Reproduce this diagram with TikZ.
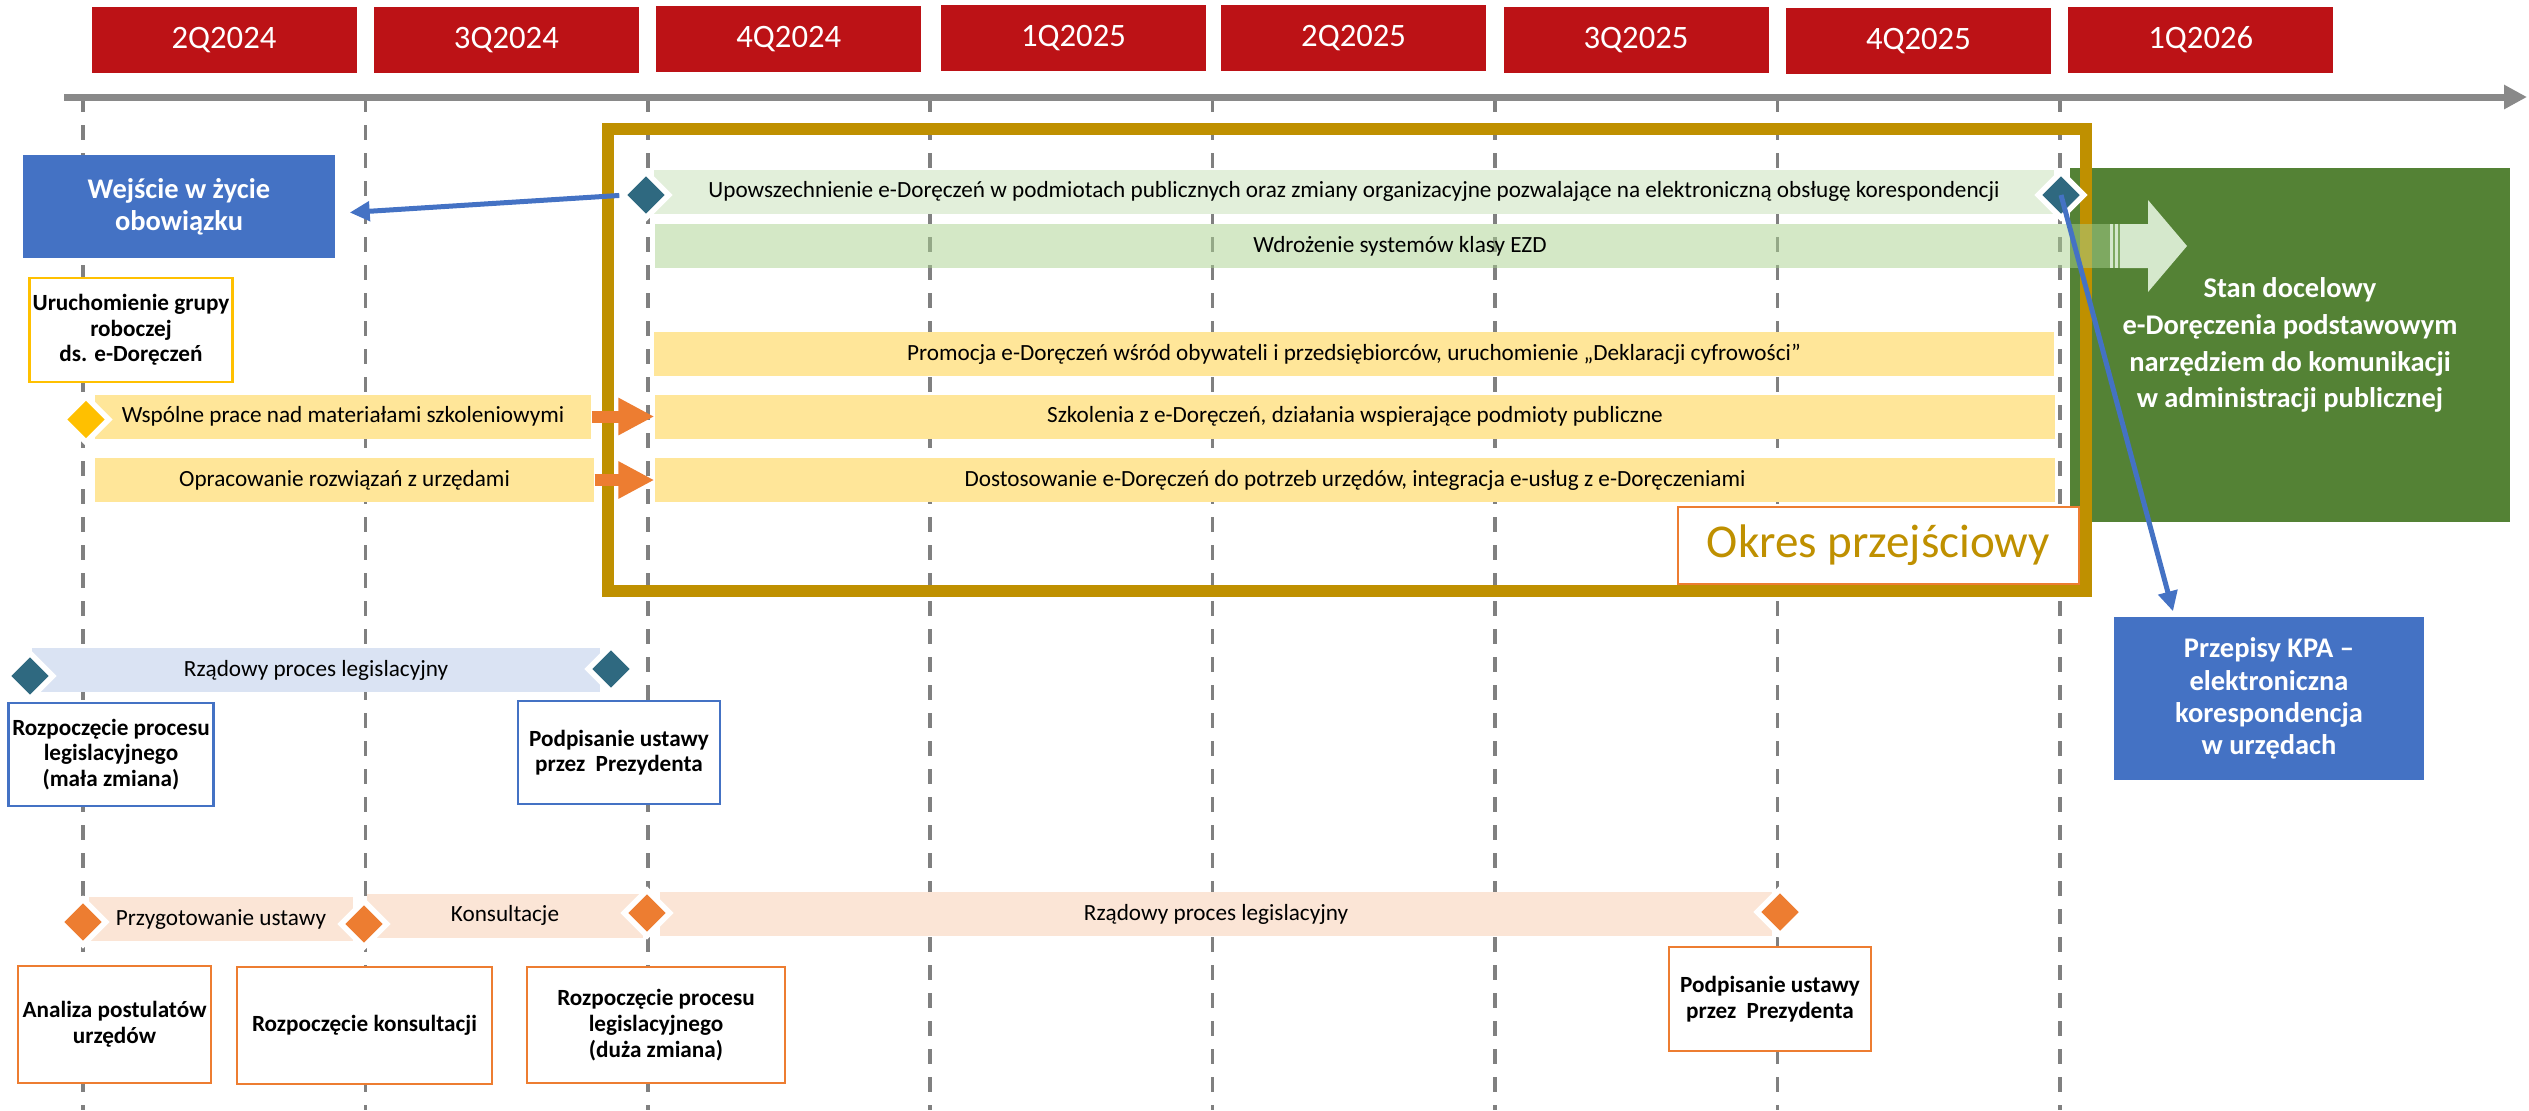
\documentclass[tikz,border=0pt]{standalone}
\usepackage{fontspec}
\setmainfont{Carlito}
\usetikzlibrary{shapes.geometric,arrows.meta}

\definecolor{hdrRed}{HTML}{BC1216}
\definecolor{gridGray}{HTML}{808080}
\definecolor{axisGray}{HTML}{898989}
\definecolor{frameGold}{HTML}{BF9000}
\definecolor{msTeal}{HTML}{2F6980}
\definecolor{msOrange}{HTML}{ED7D31}
\definecolor{msAmber}{HTML}{FFC000}
\definecolor{boxBlue}{HTML}{4472C4}
\definecolor{goalGreen}{HTML}{548235}
\definecolor{barGreen}{HTML}{E2EFDA}
\definecolor{barGreenDark}{HTML}{A9D18E}
\definecolor{barYellow}{HTML}{FFE699}
\definecolor{barBlue}{HTML}{DAE3F3}
\definecolor{barPeach}{HTML}{FBE5D6}
\definecolor{arrowGreen}{HTML}{D5E8CC}

\begin{document}
\begin{tikzpicture}[
		quarter/.style={rectangle, fill=hdrRed, text=white, minimum width=2.65cm, minimum height=0.66cm, inner sep=0pt, font=\fontsize{9.3}{11}\selectfont},
		qline/.style={draw=gridGray, line width=0.035cm, dash pattern=on 0.15cm off 0.13cm},
		bar/.style={rectangle, minimum height=0.44cm, inner sep=0pt, font=\fontsize{6.6}{7.5}\selectfont},
		mstone/.style={diamond, inner sep=0pt, minimum size=0.38cm, preaction={draw=white, line width=0.113cm}},
		infobox/.style={rectangle, draw, line width=0.8pt, fill=white, align=center, inner sep=1pt, font=\bfseries\fontsize{6.6}{7.3}\selectfont},
		bluebox/.style={rectangle, fill=boxBlue, text=white, align=center, inner sep=1pt, font=\bfseries\fontsize{8.1}{9.2}\selectfont},
		bluearrow/.style={draw=boxBlue, line width=0.05cm, -{Triangle[length=0.2cm,width=0.19cm]}},
		blockarrow/.style={draw=msOrange, line width=0.12cm, -{Triangle[length=0.36cm,width=0.35cm]}}
	]
			\useasboundingbox (0,0) rectangle (25.29,-11.10);

			\draw[qline] (0.83,-0.97)   -- (0.83,-11.10);
			\draw[qline] (3.654,-0.97)  -- (3.654,-11.10);
			\draw[qline] (6.478,-0.97)  -- (6.478,-11.10);
			\draw[qline] (9.302,-0.97)  -- (9.302,-11.10);
			\draw[qline] (12.126,-0.97) -- (12.126,-11.10);
			\draw[qline] (14.95,-0.97)  -- (14.95,-11.10);
			\draw[qline] (17.774,-0.97) -- (17.774,-11.10);
			\draw[qline] (20.598,-0.97) -- (20.598,-11.10);

			\draw[draw=axisGray, line width=0.07cm, -{Triangle[length=0.23cm,width=0.23cm]}] (0.64,-0.97) -- (25.27,-0.97);

			\node[quarter](q2y24) at (2.24,-0.40){2Q2024};
			\node[quarter](q3y24) at (5.064,-0.40){3Q2024};
			\node[quarter](q4y24) at (7.888,-0.39){4Q2024};
			\node[quarter](q1y25) at (10.735,-0.38){1Q2025};
			\node[quarter](q2y25) at (13.536,-0.38){2Q2025};
			\node[quarter](q3y25) at (16.36,-0.40){3Q2025};
			\node[quarter](q4y25) at (19.184,-0.41){4Q2025};
			\node[quarter](q1y26) at (22.008,-0.40){1Q2026};

			\node[rectangle, fill=goalGreen, text=white, align=center, minimum width=4.40cm, minimum height=3.54cm, font=\bfseries\fontsize{8.1}{10.5}\selectfont](goal) at (22.90,-3.45){Stan docelowy\\e-Doręczenia podstawowym\\narzędziem do komunikacji\\w administracji publicznej};

			\node[rectangle, draw=frameGold, line width=0.115cm, minimum width=14.78cm, minimum height=4.62cm, inner sep=0pt](okres) at (13.47,-3.60){};

			\node[bar, fill=barGreen, minimum width=14.00cm](upow) at (13.54,-1.915){Upowszechnienie e-Doręczeń w podmiotach publicznych oraz zmiany organizacyjne pozwalające na elektroniczną obsługę korespondencji};
			\node[bar, fill=barGreenDark, fill opacity=0.5, text opacity=1, minimum width=14.90cm](ezd) at (14.00,-2.46){Wdrożenie systemów klasy EZD};
			\fill[arrowGreen] (21.10,-2.24) rectangle (21.13,-2.68);
			\fill[arrowGreen] (21.15,-2.24) rectangle (21.18,-2.68);
			\fill[arrowGreen] (21.20,-2.24) -- (21.48,-2.24) -- (21.48,-2.00) -- (21.87,-2.46) -- (21.48,-2.92) -- (21.48,-2.68) -- (21.20,-2.68) -- cycle;

			\node[bar, fill=barYellow, minimum width=14.00cm](promo)   at (13.54,-3.54){Promocja e-Doręczeń wśród obywateli i przedsiębiorców, uruchomienie „Deklaracji cyfrowości”};
			\node[bar, fill=barYellow, minimum width=14.00cm](szkol)   at (13.55,-4.165){Szkolenia z e-Doręczeń, działania wspierające podmioty publiczne};
			\node[bar, fill=barYellow, minimum width=14.00cm](dostos)  at (13.55,-4.80){Dostosowanie e-Doręczeń do potrzeb urzędów, integracja e-usług z e-Doręczeniami};
			\node[bar, fill=barYellow, minimum width=4.96cm](wspolne)  at (3.43,-4.165){Wspólne prace nad materiałami szkoleniowymi};
			\node[bar, fill=barYellow, minimum width=4.99cm](oprac)    at (3.445,-4.80){Opracowanie rozwiązań z urzędami};

			\node[bar, fill=barBlue, minimum width=5.68cm](legisA)   at (3.16,-6.70){Rządowy proces legislacyjny};
			\node[bar, fill=barPeach, minimum width=2.64cm](przyg)   at (2.21,-9.19){Przygotowanie ustawy};
			\node[bar, fill=barPeach, minimum width=2.76cm](konsul)  at (5.05,-9.155){Konsultacje};
			\node[bar, fill=barPeach, minimum width=11.12cm](legisB) at (12.16,-9.14){Rządowy proces legislacyjny};

			\node[mstone, fill=msTeal](upowStart)    at (6.46,-1.95){};
			\node[mstone, fill=msTeal](upowEnd)      at (20.61,-1.95){};
			\node[mstone, fill=msAmber](wspStart)    at (0.86,-4.195){};
			\node[mstone, fill=msTeal](legisAStart)  at (0.30,-6.76){};
			\node[mstone, fill=msTeal](legisAEnd)    at (6.11,-6.69){};
			\node[mstone, fill=msOrange](przygStart) at (0.83,-9.22){};
			\node[mstone, fill=msOrange](konsStart)  at (3.64,-9.24){};
			\node[mstone, fill=msOrange](legisBStart) at (6.47,-9.13){};
			\node[mstone, fill=msOrange](legisBEnd)  at (17.80,-9.12){};

			\node[bluebox, minimum width=3.12cm, minimum height=1.03cm](wejscie) at (1.79,-2.065){Wejście w życie\\obowiązku};
			\node[bluebox, minimum width=3.10cm, minimum height=1.63cm](kpa) at (22.69,-6.985){Przepisy KPA –\\elektroniczna\\korespondencja\\w urzędach};

			\node[infobox, draw=msAmber, minimum width=2.02cm, minimum height=1.04cm](grupa)    at (1.31,-3.30){Uruchomienie grupy\\roboczej\\ds. e-Doręczeń};
			\node[infobox, draw=boxBlue, minimum width=2.02cm, minimum height=1.03cm](startA)   at (1.11,-7.545){Rozpoczęcie procesu\\legislacyjnego\\(mała zmiana)};
			\node[infobox, draw=boxBlue, minimum width=2.02cm, minimum height=1.03cm](signA)    at (6.19,-7.525){Podpisanie ustawy\\przez~~Prezydenta};
			\node[infobox, draw=msOrange, minimum width=1.93cm, minimum height=1.17cm](analiza) at (1.145,-10.245){Analiza postulatów\\urzędów};
			\node[infobox, draw=msOrange, minimum width=2.55cm, minimum height=1.17cm](startK)  at (3.645,-10.255){Rozpoczęcie konsultacji};
			\node[infobox, draw=msOrange, minimum width=2.58cm, minimum height=1.16cm](startB)  at (6.56,-10.25){Rozpoczęcie procesu\\legislacyjnego\\(duża zmiana)};
			\node[infobox, draw=msOrange, minimum width=2.02cm, minimum height=1.04cm](signB)   at (17.70,-9.99){Podpisanie ustawy\\przez~~Prezydenta};

			\node[rectangle, draw=msOrange, line width=0.02cm, fill=white, text=frameGold, minimum width=4.01cm, minimum height=0.77cm, font=\fontsize{13.4}{16}\selectfont](okresLabel) at (18.785,-5.455){Okres przejściowy};

			\draw[blockarrow] (wspolne.east) -- (szkol.west);
			\draw[blockarrow] (oprac.east) -- (dostos.west);
			\draw[bluearrow, shorten <=0.07cm] (upowStart.west) -- ([xshift=0.14cm,yshift=-0.06cm]wejscie.east);
			\draw[bluearrow] (upowEnd.center) -- ([xshift=-0.96cm,yshift=0.05cm]kpa.north);
		\end{tikzpicture}
\end{document}
